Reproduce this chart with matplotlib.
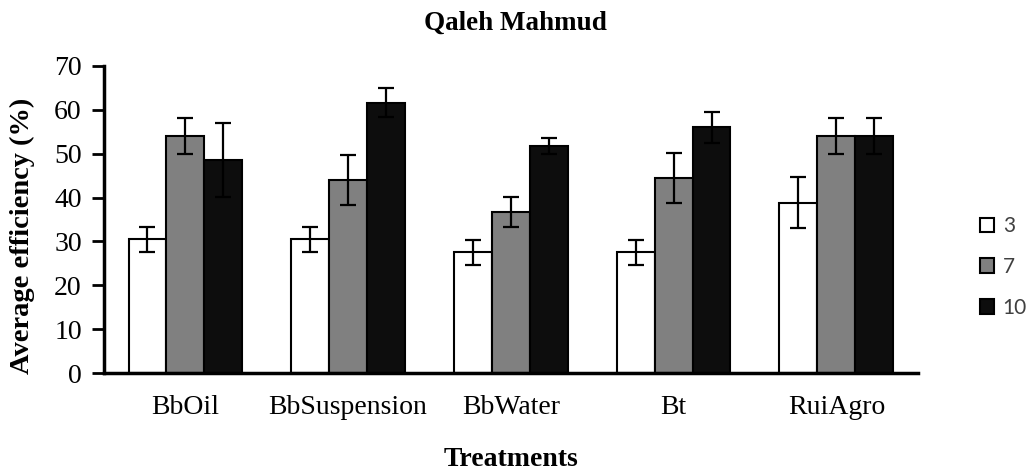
import matplotlib.pyplot as plt
import numpy as np

# data
treatments = ["BbOil", "BbSuspension", "BbWater", "Bt", "RuiAgro"]
days = ["3", "7", "10"]
mean_3 = [30.5, 30.5, 27.5, 27.5, 38.8]
mean_7 = [54.1, 44.1, 36.7, 44.5, 54.1]
mean_10 = [48.5, 61.6, 51.8, 56.0, 54.1]
err_3 = [2.8, 2.8, 2.8, 2.8, 5.8]
err_7 = [4.1, 5.7, 3.4, 5.7, 4.1]
err_10 = [8.4, 3.3, 1.8, 3.5, 4.1]

plt.rcParams['font.family'] = ['Liberation Serif', 'DejaVu Serif']

fig = plt.figure(figsize=(10.3, 4.71), dpi=100)
ax = fig.add_axes([0.101, 0.208, 0.790, 0.652])

x = np.arange(len(treatments))
w = 0.233
colors = ["white", "#808080", "#0d0d0d"]
means = [mean_3, mean_7, mean_10]
errs = [err_3, err_7, err_10]

for i in range(3):
    ax.bar(x + (i - 1) * w, means[i], w, color=colors[i], edgecolor="black",
           linewidth=1.5, label=days[i], zorder=2,
           yerr=errs[i], error_kw=dict(ecolor="black", elinewidth=1.6,
                                       capsize=6, capthick=1.6))

ax.set_xlim(-0.5, len(treatments) - 0.5)
ax.set_ylim(0, 70)
ax.set_yticks(range(0, 71, 10))
ax.set_xticks(x)
ax.set_xticklabels(treatments, fontsize=20)
ax.tick_params(axis="y", labelsize=20, length=9, width=2, direction="out", pad=7)
ax.tick_params(axis="x", length=0, pad=16)
for s in ["top", "right"]:
    ax.spines[s].set_visible(False)
for s in ["left", "bottom"]:
    ax.spines[s].set_linewidth(2.5)

ax.set_ylabel("Average efficiency (%)", fontsize=20.5, fontweight="bold")
ax.yaxis.set_label_coords(-0.085, 0.446)
ax.set_xlabel("Treatments", fontsize=20, fontweight="bold")
ax.xaxis.set_label_coords(0.5, -0.24)
fig.suptitle("Qaleh Mahmud", fontsize=19.5, fontweight="bold", y=0.978)

leg = ax.legend(loc="center left", bbox_to_anchor=(0.933, 0.433), bbox_transform=fig.transFigure,
                frameon=False, prop={"family": "Lato", "size": 15},
                labelspacing=1.0, handlelength=0.7, handleheight=0.7, handletextpad=0.4)
for t in leg.get_texts():
    t.set_color("#404040")

fig.savefig("out.png", dpi=100)
